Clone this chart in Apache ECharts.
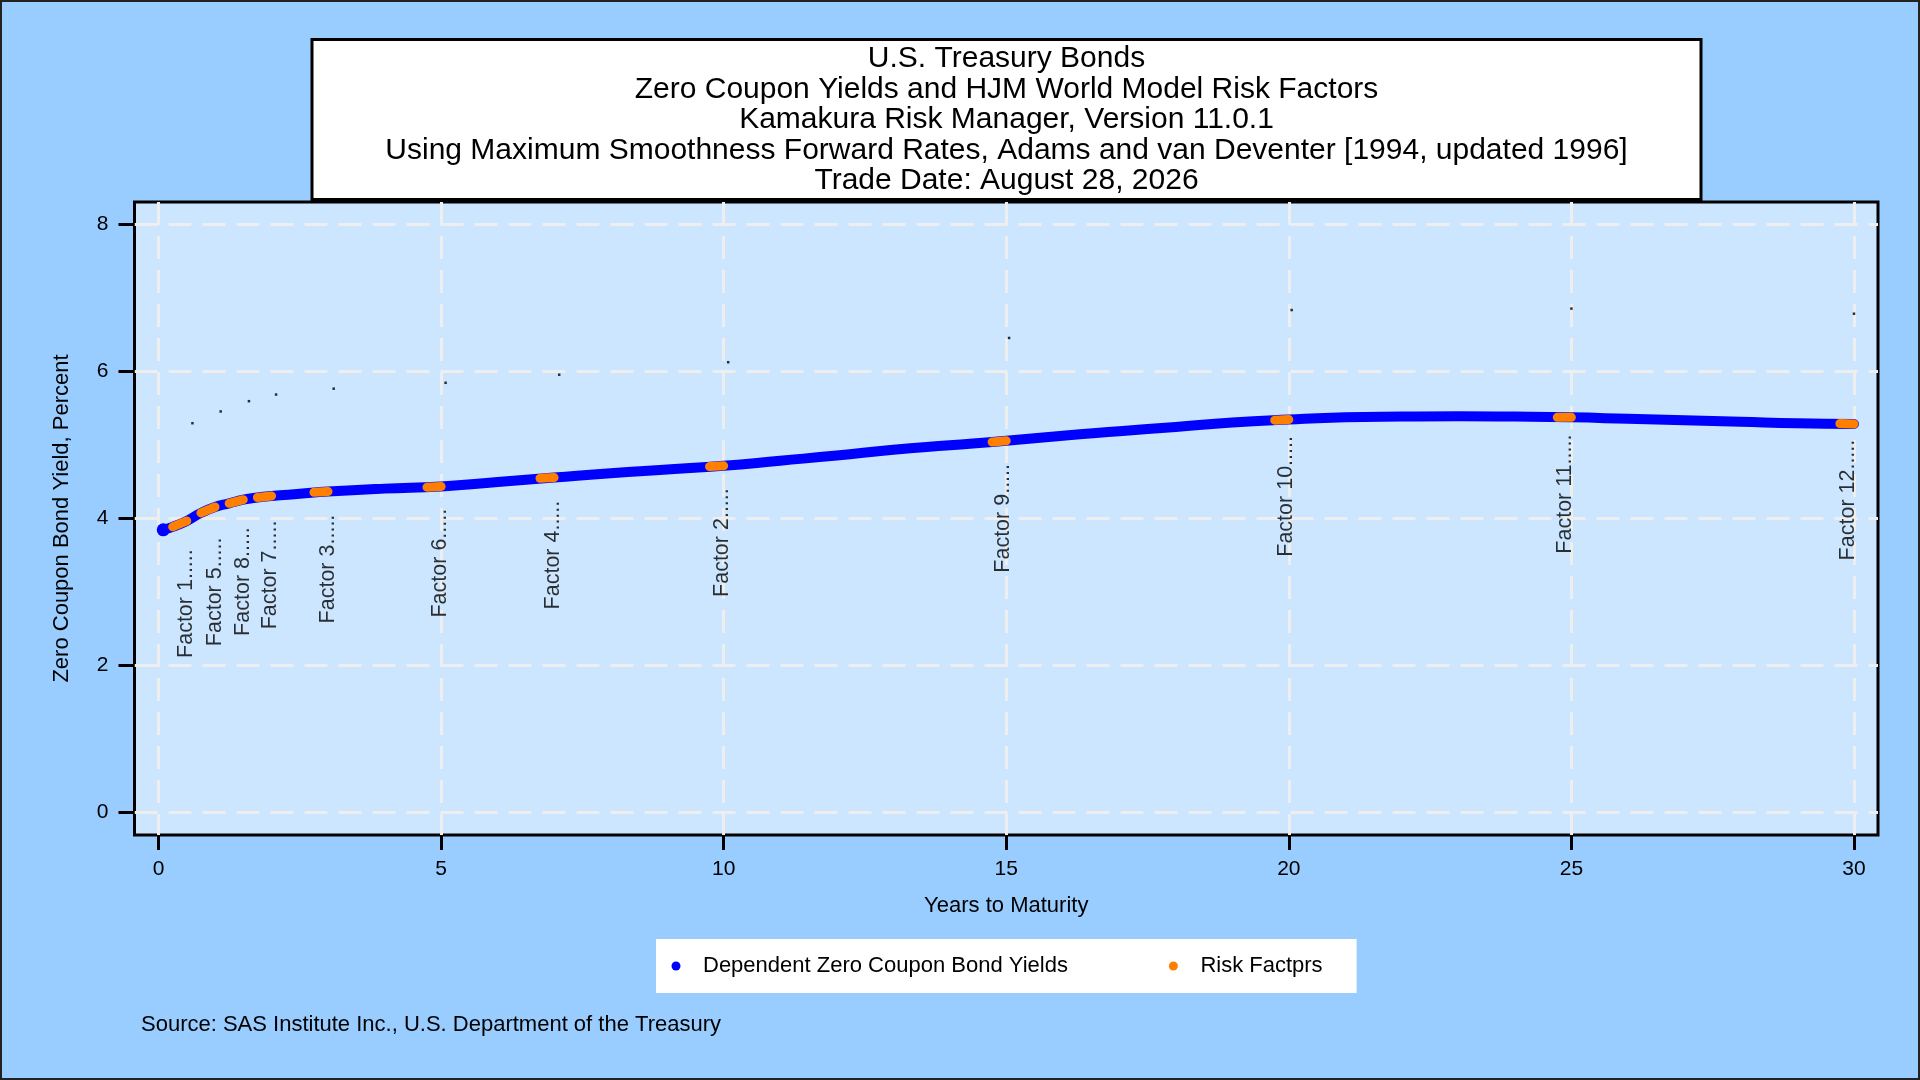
<!DOCTYPE html>
<html>
<head>
<meta charset="utf-8">
<title>U.S. Treasury Bonds - Zero Coupon Yields and HJM Risk Factors</title>
<script src="https://cdn.jsdelivr.net/npm/echarts@6/dist/echarts.min.js"></script>
<style>
  html, body { margin: 0; padding: 0; background: #99ccff; }
  #main { width: 1920px; height: 1080px; }
</style>
</head>
<body>
<div id="main"></div>
<script>
// zero coupon curve
var maturity = [0.0833, 0.25, 0.5, 0.75, 1, 1.25, 1.5, 1.75, 2, 2.5, 3,
  4, 5, 6, 7, 8, 9, 10, 11, 12, 13, 14, 15, 16, 17, 18, 19, 20,
  21, 22, 23, 24, 25, 26, 27, 28, 29, 30];
var zeroYield = [3.84, 3.88, 3.96, 4.07, 4.15, 4.20, 4.25, 4.28, 4.30, 4.33, 4.36,
  4.40, 4.43, 4.49, 4.55, 4.61, 4.66, 4.71, 4.78, 4.85, 4.93, 4.99, 5.05, 5.12, 5.18, 5.24, 5.30, 5.34,
  5.37, 5.38, 5.385, 5.38, 5.37, 5.35, 5.33, 5.31, 5.29, 5.28];

// risk factor segments (orange)
var factorName = ['Factor 1', 'Factor 5', 'Factor 8', 'Factor 7', 'Factor 3', 'Factor 6',
  'Factor 4', 'Factor 2', 'Factor 9', 'Factor 10', 'Factor 11', 'Factor 12'];
var factorFrom = [0.25, 0.75, 1.25, 1.75, 2.75, 4.75, 6.75, 9.75, 14.75, 19.75, 24.75, 29.75];
var factorTo = [0.5, 1, 1.5, 2, 3, 5, 7, 10, 15, 20, 25, 30];
var factorYieldFrom = [3.88, 4.07, 4.20, 4.28, 4.35, 4.42, 4.54, 4.70, 5.035, 5.33, 5.37, 5.285];
var factorYieldTo = [3.96, 4.15, 4.25, 4.30, 4.36, 4.43, 4.55, 4.71, 5.05, 5.34, 5.37, 5.28];

// small label points above the curve
var labelX = [0.6, 1.1, 1.6, 2.08, 3.1, 5.08, 7.09, 10.08, 15.05, 20.05, 25.0, 30.0];
var labelY = [5.29, 5.45, 5.59, 5.68, 5.76, 5.84, 5.95, 6.12, 6.45, 6.83, 6.85, 6.78];

var xTicks = [0, 5, 10, 15, 20, 25, 30];
var yTicks = [0, 2, 4, 6, 8];

var titleLines = [
  'U.S. Treasury Bonds',
  'Zero Coupon Yields and HJM World Model Risk Factors',
  'Kamakura Risk Manager, Version 11.0.1',
  'Using Maximum Smoothness Forward Rates, Adams and van Deventer [1994, updated 1996]',
  'Trade Date: August 28, 2026'
];
var sourceText = 'Source: SAS Institute Inc., U.S. Department of the Treasury';

var fontFamily = '"Liberation Sans", Arial, Helvetica, sans-serif';

var curveData = maturity.map(function (m, i) {
  if (i === 0) {
    return { value: [m, zeroYield[i]], symbol: 'circle', symbolSize: 13 };
  }
  return [m, zeroYield[i]];
});

var factorData = [];
factorFrom.forEach(function (f, i) {
  factorData.push([f, factorYieldFrom[i]], [factorTo[i], factorYieldTo[i]], [factorTo[i], '-']);
});

var labelData = labelX.map(function (x, i) {
  return { name: factorName[i], value: [x, labelY[i]] };
});

var chart = echarts.init(document.getElementById('main'));

var gridLine = { color: '#eeeeee', width: 3, type: [23, 11] };
var tickLine = { color: '#000', width: 3 };

var option = {
  animation: false,
  backgroundColor: '#99ccff',
  textStyle: { fontFamily: fontFamily },
  title: [
    {
      text: titleLines.join('\n'),
      left: 932.5,
      top: 39,
      textAlign: 'center',
      textVerticalAlign: 'top',
      padding: [5, 74, 4, 74],
      backgroundColor: '#ffffff',
      borderColor: '#000',
      borderWidth: 3,
      textStyle: { fontSize: 30, lineHeight: 30.4, fontWeight: 'normal', color: '#000', fontFamily: fontFamily }
    },
    {
      text: sourceText,
      left: 141,
      top: 1012.5,
      padding: 0,
      textAlign: 'left',
      textVerticalAlign: 'top',
      textStyle: { fontSize: 22, lineHeight: 24, fontWeight: 'normal', color: '#000', fontFamily: fontFamily }
    }
  ],
  legend: {
    data: [
      { name: 'Dependent Zero Coupon Bond Yields', icon: 'circle' },
      { name: 'Risk Factprs', icon: 'circle' }
    ],
    left: 656,
    top: 939,
    orient: 'horizontal',
    itemWidth: 44,
    itemHeight: 9,
    itemGap: 101,
    padding: [15, 34, 15, 15.5],
    backgroundColor: '#ffffff',
    selectedMode: false,
    textStyle: { fontSize: 22, lineHeight: 24, color: '#000', fontFamily: fontFamily }
  },
  grid: {
    left: 134.5,
    right: 42,
    top: 202,
    bottom: 245,
    show: true,
    backgroundColor: '#cce6ff',
    borderColor: '#000',
    borderWidth: 3
  },
  xAxis: {
    type: 'value',
    min: -0.425,
    max: 30.425,
    name: 'Years to Maturity',
    nameLocation: 'middle',
    nameGap: 59,
    nameTextStyle: { fontSize: 22, lineHeight: 24, color: '#000', fontFamily: fontFamily },
    axisLine: { show: false, onZero: false },
    axisTick: { show: true, length: 15, lineStyle: tickLine, customValues: xTicks },
    axisLabel: { customValues: xTicks, margin: 24, fontSize: 21, color: '#000', fontFamily: fontFamily },
    splitLine: { show: true, lineStyle: gridLine }
  },
  yAxis: {
    type: 'value',
    min: -0.313,
    max: 8.3,
    name: 'Zero Coupon Bond Yield, Percent',
    nameLocation: 'middle',
    nameGap: 61,
    nameTextStyle: { fontSize: 22, lineHeight: 24, color: '#000', fontFamily: fontFamily },
    axisLine: { show: false, onZero: false },
    axisTick: { show: true, length: 16, lineStyle: tickLine, customValues: yTicks },
    axisLabel: { customValues: yTicks, margin: 26, fontSize: 21, color: '#000', fontFamily: fontFamily },
    splitLine: { show: true, lineStyle: gridLine }
  },
  series: [
    {
      name: 'Dependent Zero Coupon Bond Yields',
      type: 'line',
      data: curveData,
      smooth: 0.5,
      symbol: 'none',
      itemStyle: { color: '#0000ff' },
      lineStyle: { color: '#0000ff', width: 10, cap: 'round', join: 'round' },
      silent: true,
      z: 2
    },
    {
      name: 'Risk Factprs',
      type: 'line',
      data: factorData,
      connectNulls: false,
      showSymbol: false,
      itemStyle: { color: '#ff8000' },
      lineStyle: { color: '#ff8000', width: 9, cap: 'round' },
      silent: true,
      z: 3
    },
    {
      name: 'Factor labels',
      type: 'scatter',
      data: labelData,
      symbol: 'rect',
      symbolSize: 2.5,
      itemStyle: { color: '#000' },
      silent: true,
      z: 4,
      label: {
        show: true,
        position: 'inside',
        rotate: 90,
        align: 'right',
        verticalAlign: 'middle',
        offset: [-126, -6],
        formatter: function (p) { return p.name + '.....'; },
        fontSize: 21.5,
        color: '#000',
        fontFamily: fontFamily
      }
    }
  ],
  graphic: [
    {
      type: 'rect',
      silent: true,
      z: 100,
      shape: { x: 1, y: 1, width: 1918, height: 1078 },
      style: { fill: 'none', stroke: '#222', lineWidth: 2 }
    }
  ]
};

chart.setOption(option);
</script>
</body>
</html>
